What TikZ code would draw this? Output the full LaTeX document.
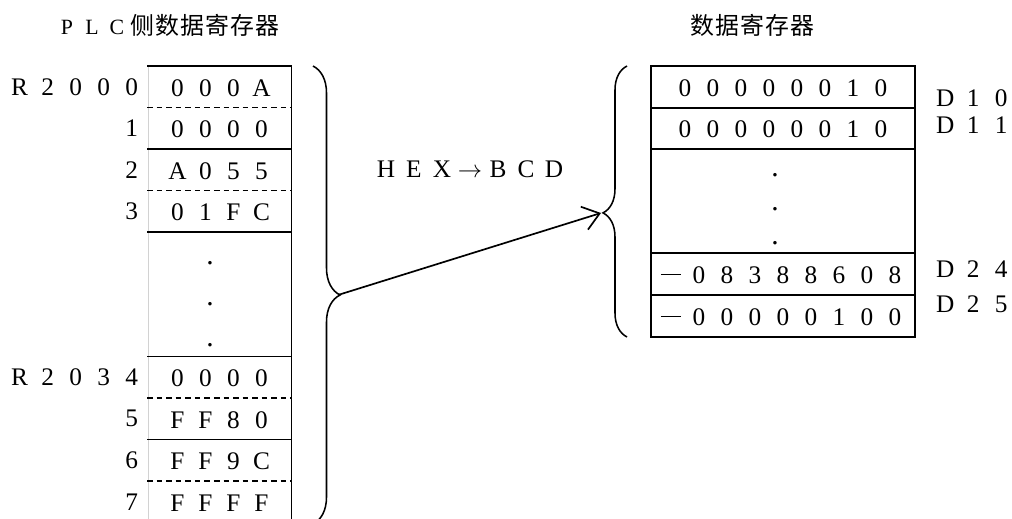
\documentclass[tikz,border=0pt]{standalone}
\usepackage{fontspec}
\setmainfont{Liberation Serif}
\newfontfamily\cjk{Noto Sans CJK SC}
\usepackage{tikz}
\usetikzlibrary{arrows.meta, decorations.pathreplacing}
\makeatletter
% one fixed-width box per character
\newcommand\fwtext[2]{\expandafter\@tfor\expandafter\fw@c\expandafter:\expandafter=#2\do{\makebox[#1]{\fw@c}}}
\makeatother
\newcommand\negbar{\rule[5.8pt]{0.5cm}{0.9pt}}
\tikzset{
  cell/.style={inner sep=0pt, font=\fontsize{18}{21}\selectfont},
  reglabel/.style={inner sep=0pt, anchor=east, font=\fontsize{18}{21}\selectfont},
  dlabel/.style={inner sep=0pt, anchor=west, font=\fontsize{18}{21}\selectfont},
  titlenode/.style={inner sep=0pt, font=\fontsize{15.5}{18}\selectfont},
  dotnode/.style={inner sep=0pt, font=\fontsize{21}{24}\selectfont},
  regline/.style={line width=1.1pt},
  splitline/.style={line width=0.9pt, dash pattern=on 4pt off 2.8pt},
  bracepath/.style={decorate, line width=1.1pt},
  convarrow/.style={-{Straight Barb[length=4mm,width=6mm]}, line width=1.2pt}
}
\begin{document}
\begin{tikzpicture}[x=0.025cm, y=-0.025cm]
  \useasboundingbox (0,0) rectangle (1012,519);

  % Titles
  \node[titlenode] (plctitle) at (167,25) {\fwtext{0.625cm}{PLC}\cjk\fontsize{17}{20}\selectfont\fwtext{0.625cm}{侧数据寄存器}};
  \node[titlenode] (dtitle) at (752,25) {\cjk\fontsize{17}{20}\selectfont\fwtext{0.625cm}{数据寄存器}};

  % PLC side registers
  \draw[gray!35, line width=0.5pt] (148,66) -- (148,519);
  \draw[regline] (291.5,66) -- (291.5,525);
  \foreach \k in {0,2,4,7,9}
    \draw[regline] (147,{66+41.5*\k}) -- (292,{66+41.5*\k});
  \foreach \k in {1,3,8,10}
    \draw[splitline] (147,{66+41.5*\k}) -- (292,{66+41.5*\k});
  \foreach \k/\lab/\val in {0/R2000/000A, 1/1/0000, 2/2/A055, 3/3/01FC,
                            7/R2034/0000, 8/5/FF80, 9/6/FF9C, 10/7/FFFF} {
    \node[reglabel] (rlab\k) at (146,{66+41.5*(\k+0.5)}) {\fwtext{0.7cm}{\lab}};
    \node[cell] (rval\k) at (219.5,{67+41.5*(\k+0.5)}) {\fwtext{0.7cm}{\val}};
  }
  \node[dotnode] (rdot1) at (210,263) {.};
  \node[dotnode] (rdot2) at (210,304) {.};
  \node[dotnode] (rdot3) at (210,345) {.};

  % Data registers
  \draw[regline] (651,66) rectangle (915,337);
  \foreach \y in {108,149,253,295}
    \draw[regline] (651,\y) -- (915,\y);
  \node[cell] (dval10) at (783,88) {\fwtext{0.7cm}{00000010}};
  \node[cell] (dval11) at (783,129.5) {\fwtext{0.7cm}{00000010}};
  \node[cell] (dval24) at (783,275) {\fwtext{0.7cm}{{\negbar}08388608}};
  \node[cell] (dval25) at (783,317) {\fwtext{0.7cm}{{\negbar}00000100}};
  \node[dotnode] (ddot1) at (775,175) {.};
  \node[dotnode] (ddot2) at (775,209) {.};
  \node[dotnode] (ddot3) at (775,243) {.};
  \node[dlabel] (d10) at (931,98) {\fwtext{0.7cm}{D10}};
  \node[dlabel] (d11) at (931,125) {\fwtext{0.7cm}{D11}};
  \node[dlabel] (d24) at (931,269) {\fwtext{0.7cm}{D24}};
  \node[dlabel] (d25) at (931,304) {\fwtext{0.7cm}{D25}};

  % Braces and conversion
  \coordinate (ltop) at (313,66);
  \coordinate (lbot) at (313,524);
  \coordinate (rbot) at (627,337);
  \coordinate (rtop) at (627,66);
  \coordinate (ltip) at (338,295);
  \coordinate (rtip) at (601,213);
  \draw[bracepath, decoration={brace, amplitude=0.675cm, aspect=0.5}] (ltop) -- (lbot);
  \draw[bracepath, decoration={brace, amplitude=0.6cm, aspect=0.458}] (rbot) -- (rtop);
  \draw[convarrow] (ltip) -- (rtip);
  \node[cell] (conv) at (470,169) {\fwtext{0.7cm}{HEX{$\rightarrow$}BCD}};
\end{tikzpicture}
\end{document}
